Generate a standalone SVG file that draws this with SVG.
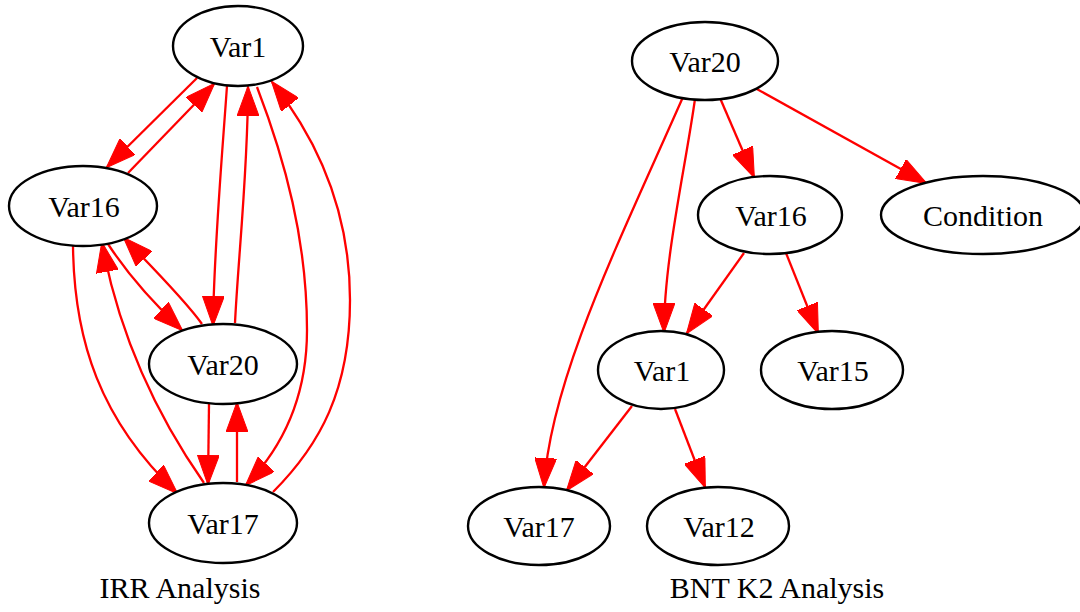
<svg xmlns="http://www.w3.org/2000/svg" width="1080" height="612" viewBox="0 0 1080 612">
<style>
.node ellipse{fill:#fff;stroke:#000;stroke-width:2.4}
.node text,.lbl{font-family:"Liberation Serif","Times New Roman",serif;font-size:30px;fill:#000;text-anchor:middle}
.edges path{fill:none;stroke:#f00;stroke-width:2.3;marker-end:url(#ah)}
</style>
<defs>
<marker id="ah" viewBox="0 0 30 22" refX="29" refY="11" markerWidth="30" markerHeight="22" markerUnits="userSpaceOnUse" orient="auto">
<path d="M0,0 L30,11 L0,22 z" fill="#f00" stroke="#f00" stroke-width="1"/>
</marker>
</defs>
<rect width="1080" height="612" fill="#fff"/>
<g class="edges" id="edges">
<path d="M197,78 L107,167"/>
<path d="M128,173 L214,84"/>
<path d="M227,86 C221,170 214,250 213,325"/>
<path d="M235,323 C238,260 248,170 248,87"/>
<path d="M257,87 C285,160 307,240 307,330 C307,400 280,450 246,485"/>
<path d="M273,492 C320,445 350,390 350,300 C350,200 310,130 272,82"/>
<path d="M108,244 C125,270 150,300 182,330"/>
<path d="M202,324 C185,300 150,265 124,238"/>
<path d="M73,246 C74,340 100,420 177,493"/>
<path d="M204,483 C160,420 120,340 102,243"/>
<path d="M209,404 L208,484"/>
<path d="M237,482 L237,403"/>
<path d="M683,97 C620,240 550,380 544,487"/>
<path d="M695,99 C685,170 664,260 664,332"/>
<path d="M720,98 L754,177"/>
<path d="M755,88 L926,183"/>
<path d="M744,253 L687,333"/>
<path d="M786,253 L818,333"/>
<path d="M632,406 L567,490"/>
<path d="M675,409 L705,487"/>
</g>
<g id="irr_var1" class="node"><ellipse cx="238" cy="46" rx="65" ry="40"/><text x="238" y="57">Var1</text></g>
<g id="irr_var16" class="node"><ellipse cx="83" cy="206" rx="74" ry="40"/><text x="84" y="217">Var16</text></g>
<g id="irr_var20" class="node"><ellipse cx="223" cy="364" rx="74" ry="40"/><text x="223" y="375">Var20</text></g>
<g id="irr_var17" class="node"><ellipse cx="223" cy="523" rx="74" ry="40"/><text x="223" y="534">Var17</text></g>
<g id="bnt_var20" class="node"><ellipse cx="705" cy="61" rx="73" ry="39"/><text x="705" y="72">Var20</text></g>
<g id="bnt_var16" class="node"><ellipse cx="770" cy="215" rx="72" ry="39"/><text x="771" y="226">Var16</text></g>
<g id="bnt_condition" class="node"><ellipse cx="983" cy="215" rx="102" ry="39"/><text x="983" y="226">Condition</text></g>
<g id="bnt_var1" class="node"><ellipse cx="661" cy="370" rx="63" ry="39"/><text x="662" y="381">Var1</text></g>
<g id="bnt_var15" class="node"><ellipse cx="832" cy="370" rx="71" ry="39"/><text x="833" y="381">Var15</text></g>
<g id="bnt_var17" class="node"><ellipse cx="539" cy="526" rx="71" ry="39"/><text x="539" y="537">Var17</text></g>
<g id="bnt_var12" class="node"><ellipse cx="718" cy="526" rx="71" ry="39"/><text x="719" y="537">Var12</text></g>
<text class="lbl" x="180" y="598">IRR Analysis</text>
<text class="lbl" x="777" y="598">BNT K2 Analysis</text>
</svg>
